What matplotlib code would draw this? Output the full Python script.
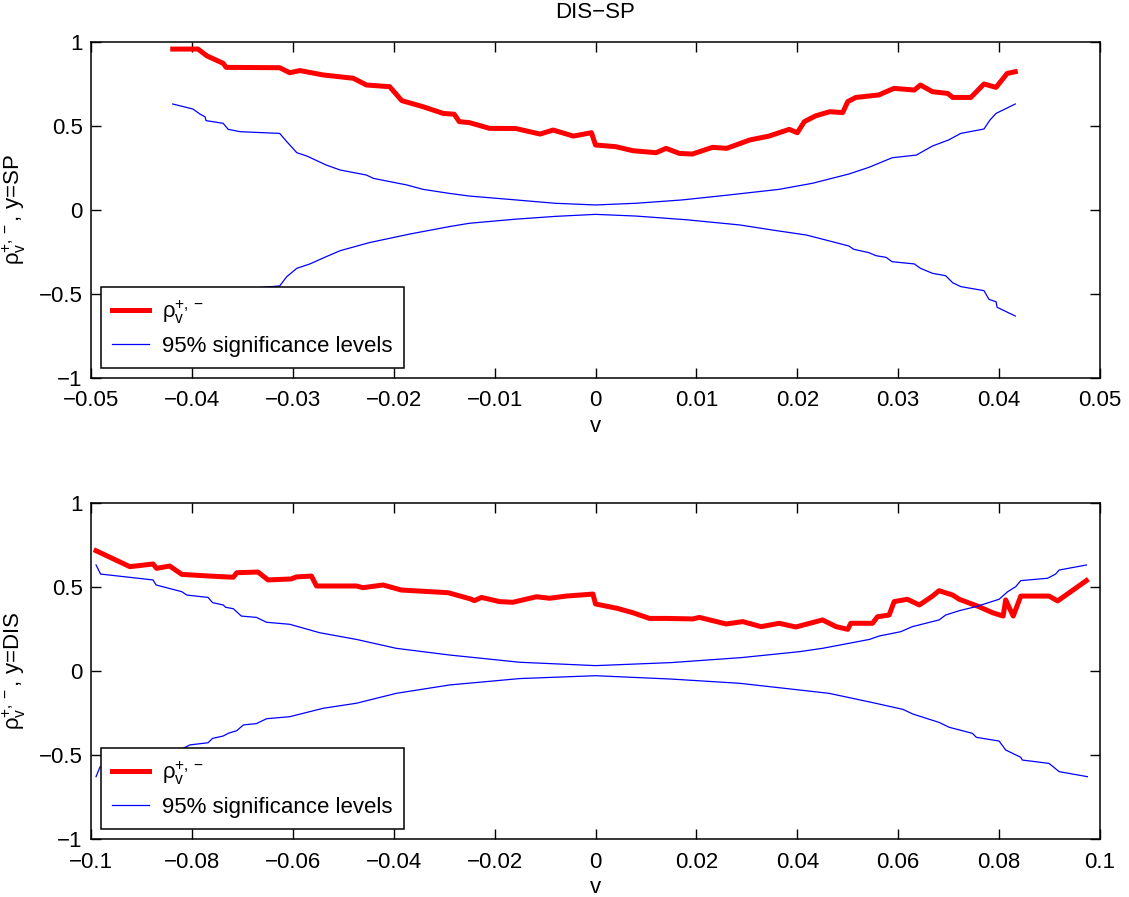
import matplotlib
matplotlib.use("Agg")
import matplotlib.pyplot as plt

plt.rcParams['font.family'] = ['Liberation Sans', 'DejaVu Sans']
plt.rcParams['mathtext.fontset'] = 'custom'
plt.rcParams['mathtext.rm'] = 'Liberation Sans'
plt.rcParams['mathtext.it'] = 'Liberation Sans'
plt.rcParams['mathtext.sf'] = 'Liberation Sans'
plt.rcParams['mathtext.default'] = 'regular'

# ---------------- top panel (y = SP) ----------------
top_rho_v = [-0.0419, -0.0394, -0.0385, -0.0369, -0.0366, -0.0313, -0.0303, -0.0293,
             -0.0270, -0.0240, -0.0227, -0.0204, -0.0192, -0.0171, -0.0151, -0.0140,
             -0.0135, -0.0125, -0.0105, -0.0079, -0.0055, -0.0042, -0.0022, -0.0004,
             0.0000, 0.0020, 0.0037, 0.0060, 0.0070, 0.0083, 0.0096, 0.0116, 0.0130,
             0.0153, 0.0172, 0.0192, 0.0200, 0.0207, 0.0218, 0.0232, 0.0245, 0.0250,
             0.0258, 0.0281, 0.0288, 0.0296, 0.0316, 0.0322, 0.0334, 0.0349, 0.0354,
             0.0372, 0.0385, 0.0397, 0.0408, 0.0416]
top_rho = [0.958, 0.958, 0.917, 0.873, 0.849, 0.847, 0.817, 0.830,
           0.804, 0.784, 0.744, 0.734, 0.651, 0.615, 0.575, 0.570,
           0.526, 0.520, 0.486, 0.485, 0.452, 0.476, 0.440, 0.460,
           0.387, 0.377, 0.353, 0.341, 0.367, 0.337, 0.333, 0.373, 0.367,
           0.417, 0.440, 0.480, 0.460, 0.526, 0.560, 0.585, 0.580, 0.645,
           0.670, 0.685, 0.704, 0.724, 0.714, 0.744, 0.704, 0.694, 0.670,
           0.670, 0.750, 0.730, 0.813, 0.823]

top_up_v = [-0.0419, -0.0399, -0.0392, -0.0387, -0.0386, -0.0369, -0.0364, -0.0352,
            -0.0313, -0.0306, -0.0296, -0.0286, -0.0267, -0.0253, -0.0227, -0.0220,
            -0.0187, -0.0171, -0.0145, -0.0125, -0.0079, -0.0040, 0.0000, 0.0040,
            0.0086, 0.0130, 0.0182, 0.0215, 0.0251, 0.0271, 0.0294, 0.0318, 0.0334,
            0.0350, 0.0362, 0.0385, 0.0391, 0.0397, 0.0416]
top_up = [0.631, 0.601, 0.571, 0.555, 0.532, 0.516, 0.480, 0.466,
          0.456, 0.407, 0.341, 0.321, 0.268, 0.238, 0.208, 0.188,
          0.149, 0.123, 0.099, 0.083, 0.060, 0.040, 0.030, 0.040,
          0.060, 0.088, 0.123, 0.159, 0.214, 0.254, 0.311, 0.327, 0.381,
          0.417, 0.456, 0.482, 0.536, 0.575, 0.631]

top_lo_v = [-0.0419, -0.0405, -0.0390, -0.0372, -0.0362, -0.0313, -0.0306, -0.0296,
            -0.0283, -0.0267, -0.0253, -0.0224, -0.0184, -0.0145, -0.0125, -0.0080,
            -0.0040, 0.0000, 0.0040, 0.0090, 0.0143, 0.0175, 0.0209, 0.0251, 0.0256,
            0.0271, 0.0278, 0.0288, 0.0294, 0.0316, 0.0322, 0.0334, 0.0347, 0.0354,
            0.0362, 0.0385, 0.0390, 0.0397, 0.0398, 0.0416]
top_lo = [-0.631, -0.600, -0.560, -0.510, -0.476, -0.452, -0.397, -0.347,
          -0.321, -0.278, -0.242, -0.194, -0.143, -0.099, -0.079, -0.055,
          -0.038, -0.026, -0.036, -0.058, -0.089, -0.119, -0.149, -0.214, -0.234,
          -0.254, -0.272, -0.282, -0.308, -0.321, -0.347, -0.377, -0.391, -0.433,
          -0.456, -0.480, -0.532, -0.546, -0.579, -0.631]

top_xticks = [-0.05, -0.04, -0.03, -0.02, -0.01, 0, 0.01, 0.02, 0.03, 0.04, 0.05]
top_xticklabels = ['\u22120.05', '\u22120.04', '\u22120.03', '\u22120.02', '\u22120.01', '0',
                   '0.01', '0.02', '0.03', '0.04', '0.05']

# ---------------- bottom panel (y = DIS) ----------------
bot_rho_v = [-0.0990, -0.0923, -0.0877, -0.0870, -0.0844, -0.0820, -0.0764, -0.0718,
             -0.0711, -0.0669, -0.0649, -0.0603, -0.0593, -0.0563, -0.0553, -0.0474,
             -0.0461, -0.0421, -0.0385, -0.0292, -0.0249, -0.0240, -0.0226, -0.0190,
             -0.0164, -0.0117, -0.0091, -0.0058, -0.0005, 0.0000, 0.0043, 0.0074,
             0.0107, 0.0140, 0.0193, 0.0206, 0.0259, 0.0292, 0.0328, 0.0364, 0.0397,
             0.0450, 0.0477, 0.0500, 0.0506, 0.0549, 0.0559, 0.0582, 0.0592, 0.0618,
             0.0642, 0.0668, 0.0681, 0.0708, 0.0721, 0.0760, 0.0787, 0.0808, 0.0813,
             0.0828, 0.0843, 0.0899, 0.0916, 0.0973]
bot_rho = [0.716, 0.621, 0.637, 0.611, 0.625, 0.575, 0.565, 0.558,
           0.585, 0.589, 0.542, 0.548, 0.560, 0.565, 0.506, 0.506,
           0.496, 0.512, 0.482, 0.466, 0.430, 0.419, 0.438, 0.413,
           0.409, 0.442, 0.433, 0.446, 0.458, 0.399, 0.373, 0.347,
           0.313, 0.313, 0.310, 0.319, 0.280, 0.294, 0.264, 0.284, 0.262,
           0.304, 0.264, 0.248, 0.284, 0.284, 0.323, 0.333, 0.413, 0.427,
           0.393, 0.446, 0.478, 0.452, 0.427, 0.383, 0.347, 0.327, 0.423,
           0.327, 0.446, 0.446, 0.417, 0.538]

bot_up_v = [-0.0990, -0.0981, -0.0877, -0.0871, -0.0820, -0.0810, -0.0768, -0.0759,
            -0.0738, -0.0733, -0.0718, -0.0702, -0.0672, -0.0652, -0.0606, -0.0547,
            -0.0474, -0.0395, -0.0289, -0.0150, 0.0000, 0.0150, 0.0290, 0.0404,
            0.0450, 0.0543, 0.0562, 0.0605, 0.0628, 0.0681, 0.0694, 0.0721, 0.0754,
            0.0800, 0.0817, 0.0833, 0.0843, 0.0896, 0.0912, 0.0919, 0.0973]
bot_up = [0.631, 0.577, 0.542, 0.512, 0.472, 0.452, 0.438, 0.407,
          0.393, 0.379, 0.371, 0.327, 0.319, 0.290, 0.278, 0.228,
          0.188, 0.135, 0.095, 0.052, 0.032, 0.050, 0.080, 0.115,
          0.135, 0.188, 0.208, 0.234, 0.264, 0.304, 0.333, 0.359, 0.383,
          0.427, 0.472, 0.502, 0.538, 0.552, 0.577, 0.601, 0.631]

bot_lo_v = [-0.0990, -0.0982, -0.0900, -0.0850, -0.0817, -0.0804, -0.0768, -0.0759,
            -0.0738, -0.0728, -0.0711, -0.0698, -0.0672, -0.0652, -0.0606, -0.0540,
            -0.0474, -0.0395, -0.0289, -0.0150, 0.0000, 0.0150, 0.0285, 0.0404,
            0.0463, 0.0549, 0.0609, 0.0629, 0.0681, 0.0701, 0.0747, 0.0755, 0.0800,
            0.0813, 0.0843, 0.0846, 0.0899, 0.0919, 0.0975]
bot_lo = [-0.629, -0.570, -0.520, -0.480, -0.460, -0.440, -0.427, -0.401,
          -0.387, -0.371, -0.355, -0.321, -0.313, -0.284, -0.272, -0.222,
          -0.192, -0.133, -0.083, -0.045, -0.028, -0.048, -0.073, -0.113,
          -0.133, -0.188, -0.228, -0.256, -0.306, -0.335, -0.371, -0.395, -0.417,
          -0.470, -0.514, -0.530, -0.550, -0.599, -0.629]

bot_xticks = [-0.1, -0.08, -0.06, -0.04, -0.02, 0, 0.02, 0.04, 0.06, 0.08, 0.1]
bot_xticklabels = ['\u22120.1', '\u22120.08', '\u22120.06', '\u22120.04', '\u22120.02', '0',
                   '0.02', '0.04', '0.06', '0.08', '0.1']

yticks = [-1, -0.5, 0, 0.5, 1]
yticklabels = ['\u22121', '\u22120.5', '0', '0.5', '1']

FS = 16
W, H = 1129, 897
fig = plt.figure(figsize=(W / 100, H / 100), dpi=100)


def make_axes(top_px, bottom_px):
    left = 91 / W
    right = 1100 / W
    return fig.add_axes([left, 1 - bottom_px / H, right - left, (bottom_px - top_px) / H])


def style(ax, xlim, xticks, xticklabels, ylabel):
    ax.set_xlim(*xlim)
    ax.set_ylim(-1, 1)
    ax.set_xticks(xticks)
    ax.set_xticklabels(xticklabels)
    ax.set_yticks(yticks)
    ax.set_yticklabels(yticklabels)
    ax.tick_params(direction='in', length=7, width=1, top=True, right=True,
                   labelsize=FS)
    ax.tick_params(axis='x', pad=9)
    ax.tick_params(axis='y', pad=6)
    for s in ax.spines.values():
        s.set_linewidth(1.1)
    ax.set_xlabel('v', fontsize=FS, labelpad=3)
    ax.set_ylabel(ylabel, fontsize=FS, labelpad=8)
    ax.legend(loc='lower left', fontsize=FS, fancybox=False, edgecolor='black',
              framealpha=1, borderaxespad=0.45, handlelength=1.65, handletextpad=0.6,
              borderpad=0.5, labelspacing=0.45).get_frame().set_linewidth(1.1)


RHO = r'$\rho_v^{\mathsf{+,-}}$'

ax1 = make_axes(42, 378)
ax1.plot(top_rho_v, top_rho, color='red', lw=3.6, label=RHO)
ax1.plot(top_up_v, top_up, color='blue', lw=0.9, label='95% significance levels')
ax1.plot(top_lo_v, top_lo, color='blue', lw=0.9)
style(ax1, (-0.05, 0.05), top_xticks, top_xticklabels, RHO + ', y=SP')
ax1.set_title('DIS\u2212SP', fontsize=FS, pad=17)

ax2 = make_axes(503, 839)
ax2.plot(bot_rho_v, bot_rho, color='red', lw=3.6, label=RHO)
ax2.plot(bot_up_v, bot_up, color='blue', lw=0.9, label='95% significance levels')
ax2.plot(bot_lo_v, bot_lo, color='blue', lw=0.9)
style(ax2, (-0.1, 0.1), bot_xticks, bot_xticklabels, RHO + ', y=DIS')

fig.savefig('out.png', dpi=100)
